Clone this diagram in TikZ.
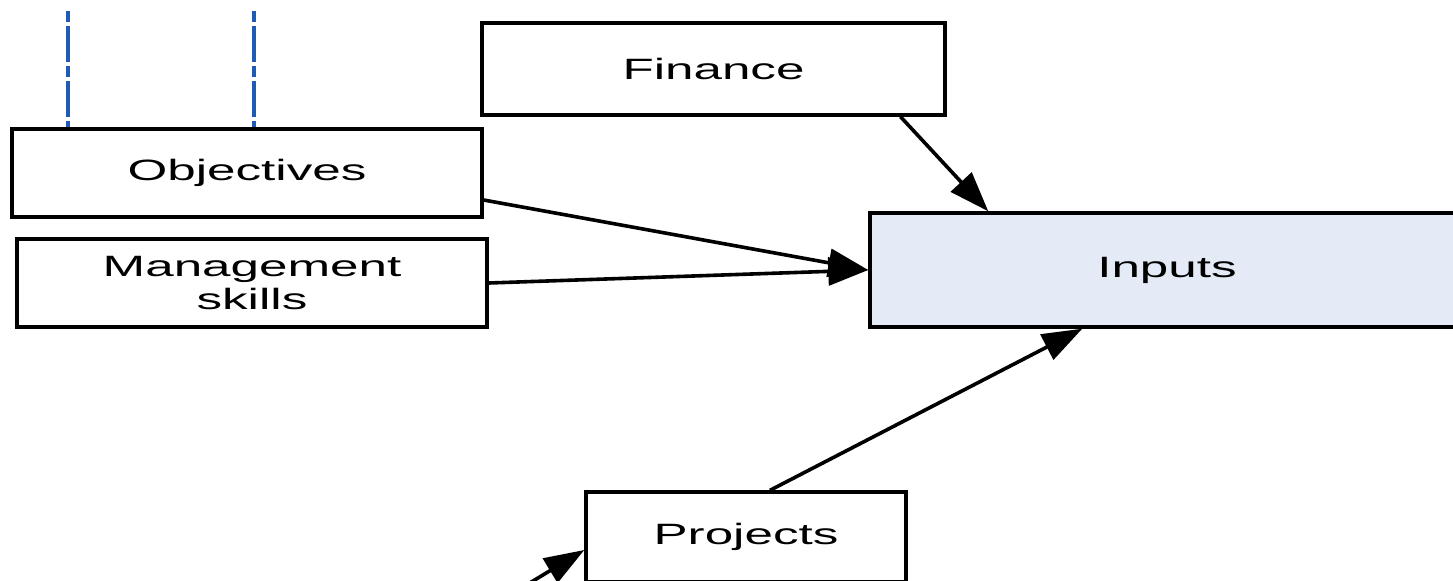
\documentclass[tikz,border=0pt]{standalone}
\usepackage{fontspec}
\setmainfont[FakeStretch=1.74]{Liberation Sans}
\usetikzlibrary{arrows.meta,calc}

\definecolor{inputfill}{HTML}{E4EBF6}
\definecolor{guideblue}{HTML}{1F5BB4}

\tikzset{
  box/.style={draw=black, line width=1.7pt, fill=white, align=center,
    inner sep=0pt, font=\fontsize{14.7}{16.5}\selectfont},
  flow/.style={line width=1.8pt, -{Triangle[length=20pt,width=14pt]}},
  guide/.style={draw=guideblue, line width=2.2pt,
    dash pattern=on 5.5pt off 2pt on 18pt off 2pt},
}

\begin{document}
\begin{tikzpicture}[x=0.5pt, y=-0.5pt]
  \useasboundingbox (0,0) rectangle (1453,580);
  \clip (0,0) rectangle (1453,580);

  % boxes
  \node[box, minimum width=235pt, minimum height=44pt] (obj) at (247,173) {Objectives};
  \node[box, minimum width=235pt, minimum height=44pt] (mgt) at (252,283) {Management\\skills};
  \node[box, minimum width=231.5pt, minimum height=46pt] (fin) at (713.5,69) {Finance};
  \node[box, fill=inputfill, minimum width=297pt, minimum height=57pt] (in) at (1167,270) {Inputs};
  \node[box, minimum width=160pt, minimum height=45pt] (proj) at (746,537) {Projects};

  % dash-dot guides above the objectives box
  \coordinate (g1) at (68,11);
  \coordinate (g2) at (254,11);
  \draw[guide] (g1) -- (g1 |- obj.north);
  \draw[guide] (g2) -- (g2 |- obj.north);

  % flows into the inputs box
  \draw[flow] ([yshift=-13.5pt]obj.east) -- (in.west);
  \draw[flow] (mgt.east) -- (in.west);
  \draw[flow] ([xshift=93.5pt]fin.south west -| fin.south) -- ([xshift=60pt]in.north west);
  \draw[flow] ([xshift=12pt]proj.north) -- ([xshift=107pt]in.south west);

  % incoming flow to the projects box
  \coordinate (pin) at (528,584);
  \draw[flow] (pin) -- ([yshift=-6.5pt]proj.west);
\end{tikzpicture}
\end{document}
